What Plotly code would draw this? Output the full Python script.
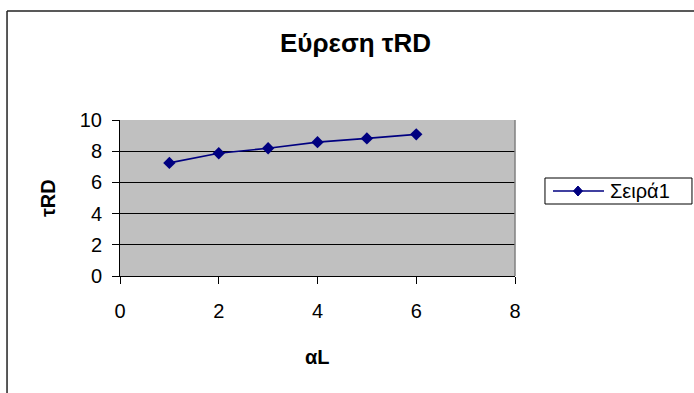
import plotly.graph_objects as go

# Series data
alpha_L = [1, 2, 3, 4, 5, 6]
tau_RD = [7.25, 7.87, 8.19, 8.58, 8.82, 9.08]
series_name = "Σειρά1"

chart_title = "Εύρεση τRD"
x_title = "αL"
y_title = "τRD"

x_ticks = [0, 2, 4, 6, 8]
y_ticks = [0, 2, 4, 6, 8, 10]

FONT = "Liberation Sans, Arial, sans-serif"
NAVY = "#000080"

fig = go.Figure()
fig.add_trace(go.Scatter(
    x=alpha_L, y=tau_RD, name=series_name, mode="lines+markers",
    line=dict(color=NAVY, width=1.6),
    marker=dict(symbol="diamond", size=9.5, color=NAVY),
    showlegend=False,
))

# Legend box anchored to the right of the plot area (pixel-sized pieces)
LX, LY = 1.0759, 0.6282
legend_shapes = [
    dict(type="rect", xref="paper", yref="paper", xsizemode="pixel", ysizemode="pixel",
         xanchor=LX, yanchor=LY, x0=0, x1=147, y0=0, y1=-26,
         line=dict(color="black", width=1), fillcolor="white"),
    dict(type="line", xref="paper", yref="paper", xsizemode="pixel", ysizemode="pixel",
         xanchor=LX, yanchor=LY, x0=8, x1=59, y0=-13, y1=-13,
         line=dict(color=NAVY, width=1.6)),
    dict(type="path", xref="paper", yref="paper", xsizemode="pixel", ysizemode="pixel",
         xanchor=LX, yanchor=LY, path="M28.5,-13 L33,-8 L37.5,-13 L33,-18 Z",
         line=dict(color=NAVY, width=1), fillcolor=NAVY),
]

fig.update_layout(
    width=694, height=393,
    margin=dict(l=120, r=179, t=120, b=117),
    paper_bgcolor="white",
    plot_bgcolor="#C0C0C0",
    font=dict(family=FONT, size=20, color="black"),
    xaxis=dict(
        range=[0, 8], tickvals=x_ticks, showgrid=False, zeroline=False,
        showline=True, linecolor="black", linewidth=1,
        ticks="outside", ticklen=7, tickcolor="black",
        ticklabelstandoff=10,
        tickfont=dict(family=FONT, size=20),
    ),
    yaxis=dict(
        range=[0, 10], tickvals=y_ticks, showgrid=True, gridcolor="black",
        gridwidth=1, zeroline=False,
        showline=True, linecolor="black", linewidth=1,
        ticks="outside", ticklen=7, tickcolor="black",
        ticklabelstandoff=6,
        tickfont=dict(family=FONT, size=20),
    ),
    annotations=[
        dict(text=chart_title, xref="paper", yref="paper", x=0.595, y=1.494,
             xanchor="center", yanchor="middle", showarrow=False,
             font=dict(family=FONT, size=26, color="black", weight="bold")),
        dict(text=x_title, xref="paper", yref="paper", x=0.501, y=-0.519,
             xanchor="center", yanchor="middle", showarrow=False,
             font=dict(family=FONT, size=20, color="black", weight="bold")),
        dict(text=y_title, xref="paper", yref="paper", x=-0.182, y=0.5,
             xanchor="center", yanchor="middle", showarrow=False, textangle=-90,
             font=dict(family=FONT, size=20, color="black", weight="bold")),
        dict(text=series_name, xref="paper", yref="paper", x=1.236, y=0.545,
             xanchor="left", yanchor="middle", showarrow=False,
             font=dict(family=FONT, size=20, color="black")),
    ],
    shapes=[
        # right edge of the plot area
        dict(type="line", xref="paper", yref="paper", x0=1, x1=1, y0=0, y1=1,
             line=dict(color="#808080", width=1.5)),
        # chart area frame (top and left edges)
        dict(type="line", xref="paper", yref="paper", x0=-0.286, x1=1.6,
             y0=1.699, y1=1.699, line=dict(color="#222222", width=1.5)),
        dict(type="line", xref="paper", yref="paper", x0=-0.286, x1=-0.286,
             y0=1.699, y1=-0.9, line=dict(color="#222222", width=1.5)),
    ] + legend_shapes,
)

fig.write_html("out.html", config={"displayModeBar": False})
